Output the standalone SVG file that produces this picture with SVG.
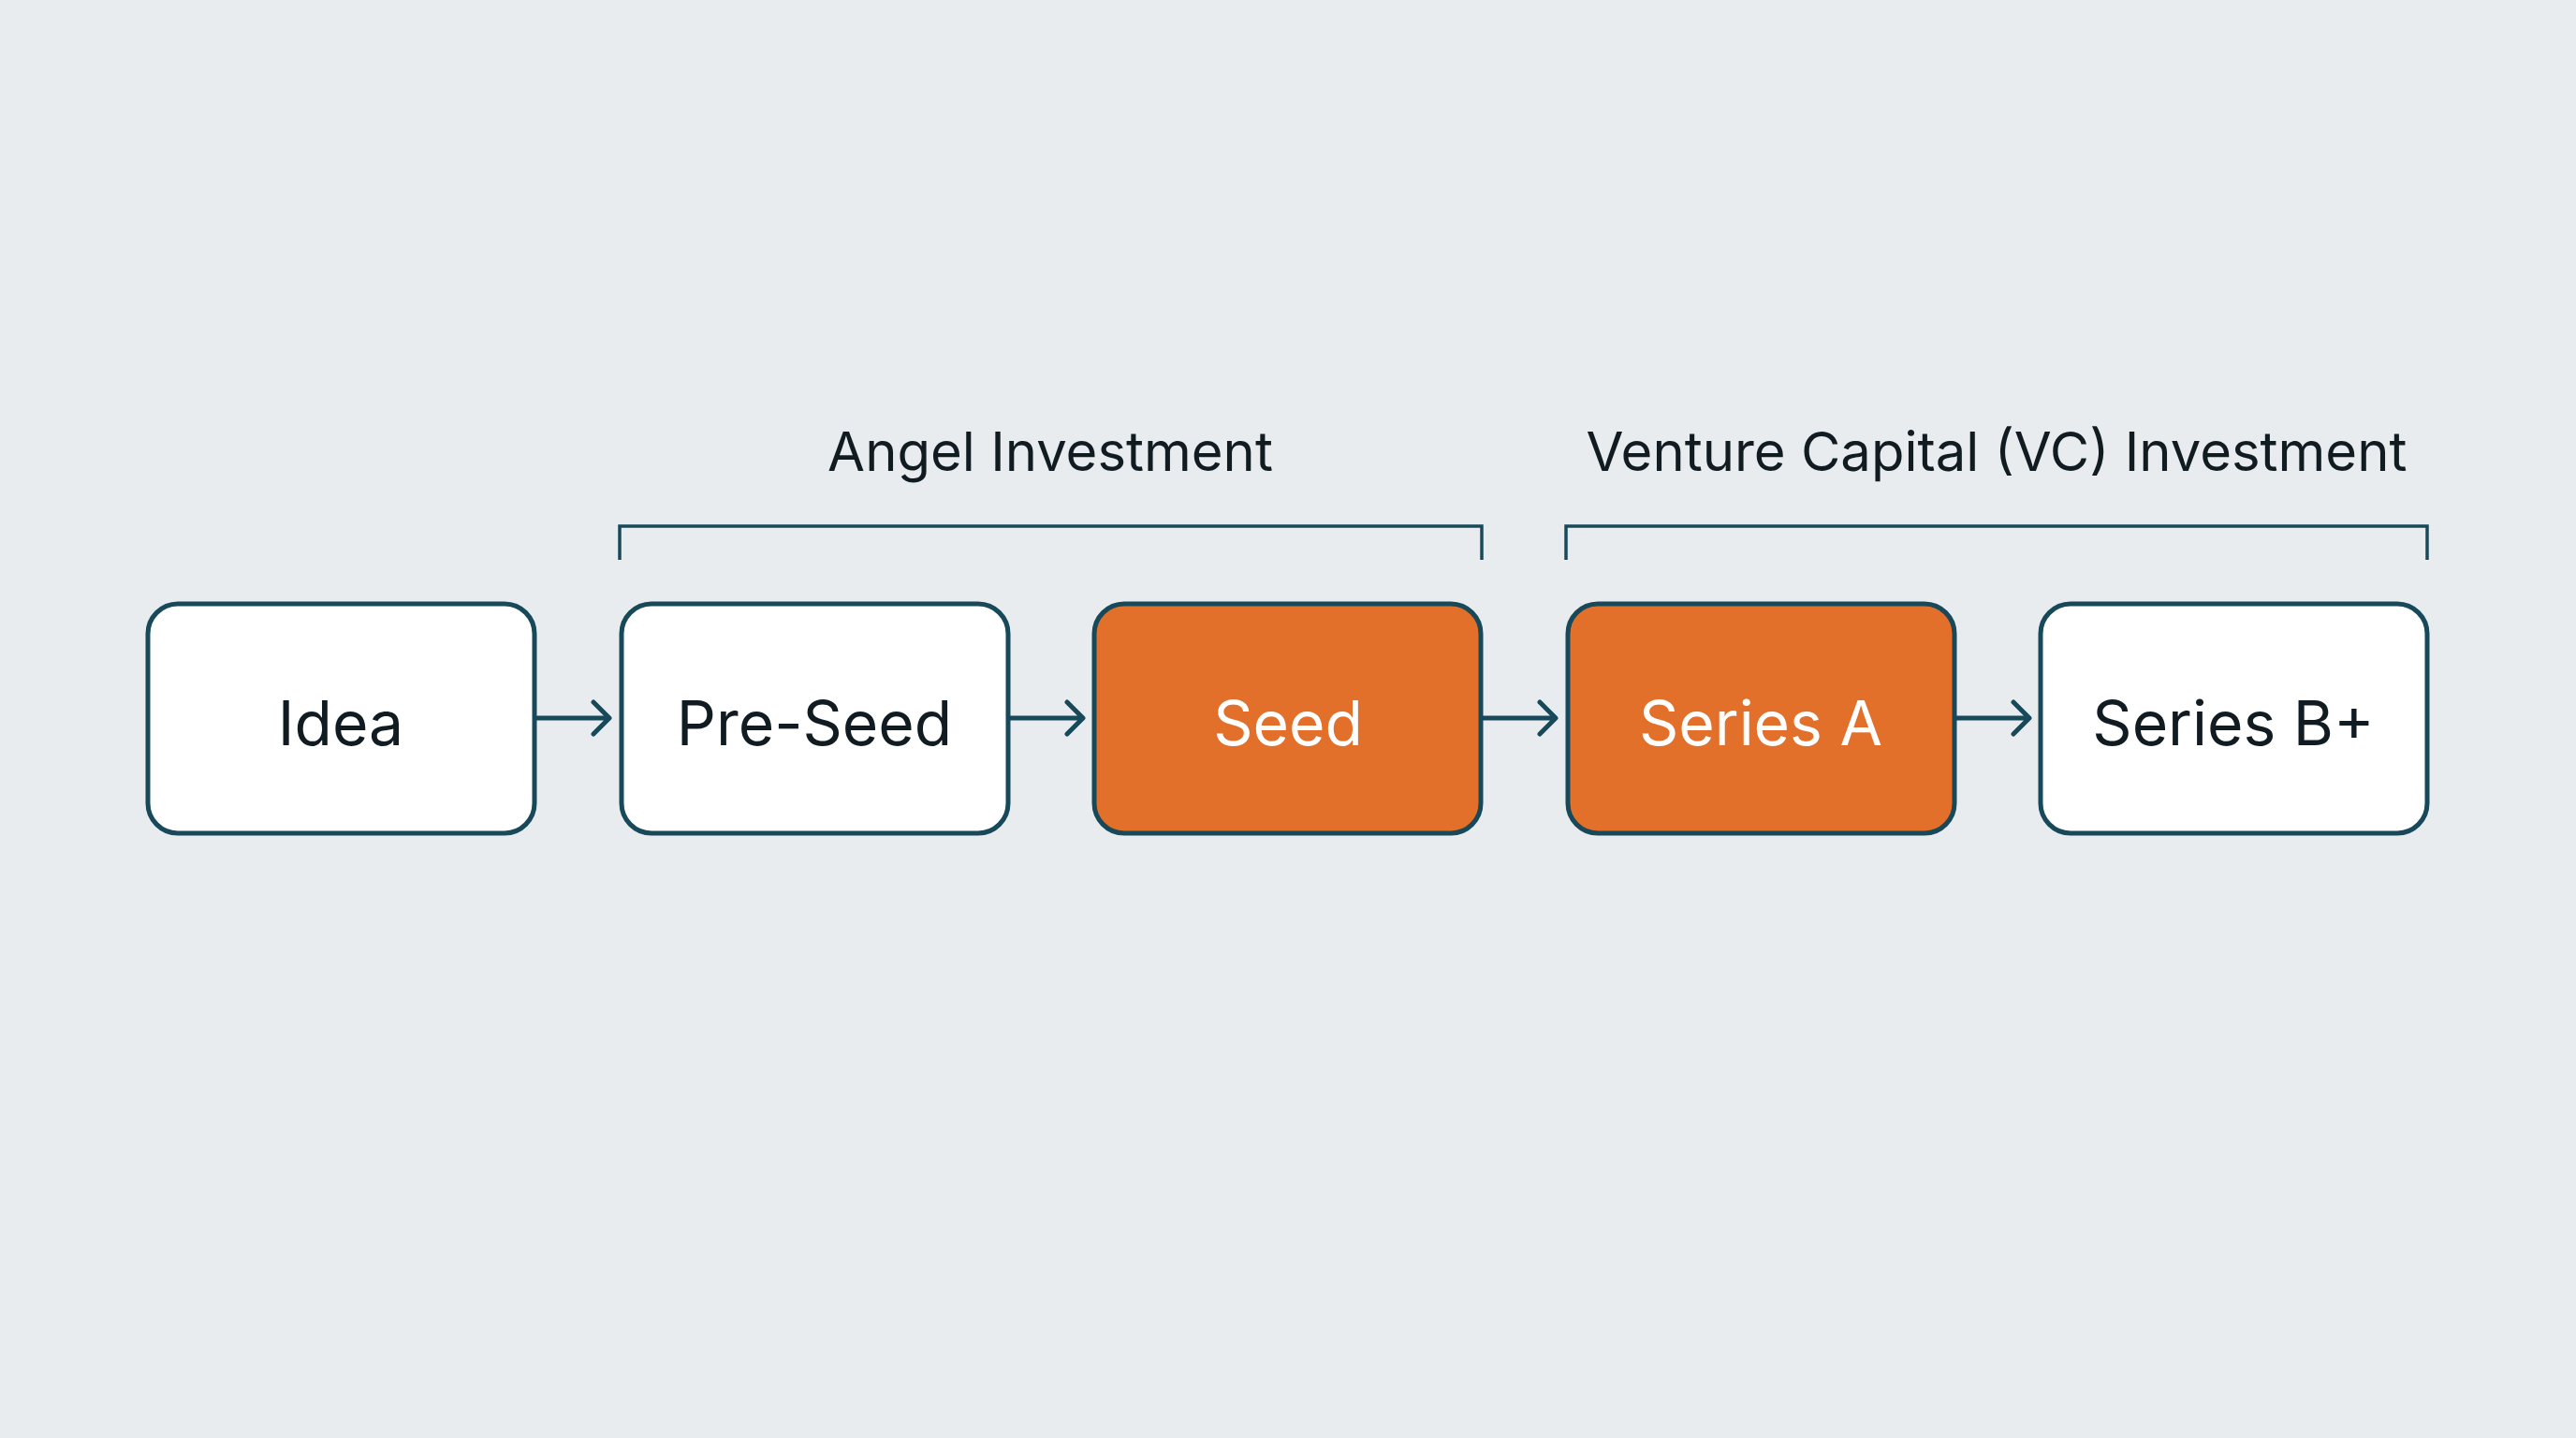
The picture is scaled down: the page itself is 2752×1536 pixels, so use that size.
<svg xmlns="http://www.w3.org/2000/svg" width="2752" height="1536" viewBox="0 0 2752 1536">
<defs>
<style>
.box{fill:#ffffff;stroke:#17495a;stroke-width:5}
.hi{fill:#e2702a;stroke:#17495a;stroke-width:5}
.lbl{font-family:Inter,"Liberation Sans",sans-serif;font-size:66px;text-anchor:middle;fill:#111b22}
.lw{fill:#ffffff}
.grp{font-family:Inter,"Liberation Sans",sans-serif;font-size:58px;text-anchor:middle;fill:#111b22}
.br{fill:none;stroke:#17495a;stroke-width:3.5}
.ar{fill:none;stroke:#17495a;stroke-width:5;stroke-linecap:round;stroke-linejoin:round}
</style>
</defs>
<rect width="2752" height="1536" fill="#e9ecee"/>
<g id="connectors">
<path class="ar" d="M572 767 H650 M634 750 L651 767 L634 784"/>
<path class="ar" d="M1078 767 H1156 M1140 750 L1157 767 L1140 784"/>
<path class="ar" d="M1583 767 H1661 M1645 750 L1662 767 L1645 784"/>
<path class="ar" d="M2089 767 H2167 M2151 750 L2168 767 L2151 784"/>
</g>
<g id="angel"><path class="br" d="M662 598 V562 H1583 V598"/><text class="grp" x="1122" y="503">Angel Investment</text></g>
<g id="vc"><path class="br" d="M1673 598 V562 H2593 V598"/><text class="grp" x="2133" y="503">Venture Capital (VC) Investment</text></g>
<g id="idea"><rect class="box" x="158" y="645" width="413" height="245" rx="32"/><text class="lbl" x="364" y="796">Idea</text></g>
<g id="preseed"><rect class="box" x="664" y="645" width="413" height="245" rx="32"/><text class="lbl" x="870" y="796">Pre-Seed</text></g>
<g id="seed"><rect class="hi" x="1169" y="645" width="413" height="245" rx="32"/><text class="lbl lw" x="1376" y="796">Seed</text></g>
<g id="seriesa"><rect class="hi" x="1675" y="645" width="413" height="245" rx="32"/><text class="lbl lw" x="1881" y="796">Series A</text></g>
<g id="seriesb"><rect class="box" x="2180" y="645" width="413" height="245" rx="32"/><text class="lbl" x="2386" y="796">Series B+</text></g>
</svg>
